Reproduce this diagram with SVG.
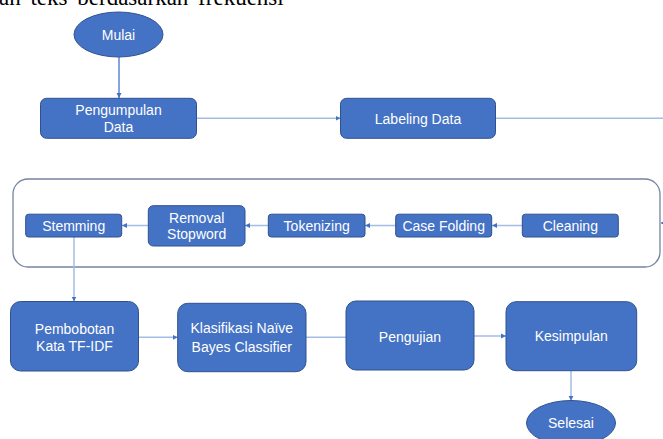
<svg xmlns="http://www.w3.org/2000/svg" width="663" height="439" viewBox="0 0 663 439">
<style>
.n{fill:#4472C4;stroke:#2F528F;stroke-width:1}
.t{fill:#FFFFFF;font-family:"Liberation Sans",Arial,sans-serif;font-size:14px;text-anchor:middle}
.c{fill:none;stroke:#A4BCE6;stroke-width:1.5}
.cd{fill:none;stroke:#5B86D3;stroke-width:1.5}
.doc{font-family:"Liberation Serif","Times New Roman",serif;font-size:23px;word-spacing:4px;fill:#000}
</style>
<defs>
<marker id="ah" markerWidth="6" markerHeight="6" refX="5" refY="3" orient="auto" markerUnits="userSpaceOnUse">
<path d="M0,0.5 L5,3 L0,5.5 Z" fill="#4472C4"/>
</marker>
</defs>
<rect width="663" height="439" fill="#FFFFFF"/>
<text class="doc" x="-1" y="5">an teks berdasarkan frekuensi</text>

<g id="container">
<rect x="13" y="179" width="647" height="88" rx="15" fill="#FFFFFF" stroke="#7584A3" stroke-width="1.3"/>
</g>

<g id="connectors">
<line class="cd" x1="119" y1="57" x2="119" y2="98" marker-end="url(#ah)"/>
<line class="c" x1="197" y1="118.3" x2="340.5" y2="118.3" marker-end="url(#ah)"/>
<line class="c" x1="495.5" y1="118.3" x2="663" y2="118.3"/>
<line class="c" x1="663" y1="223" x2="660.5" y2="223" marker-end="url(#ah)"/>
<line class="c" x1="522" y1="225.5" x2="492" y2="225.5" marker-end="url(#ah)"/>
<line class="c" x1="396" y1="225.5" x2="365" y2="225.5" marker-end="url(#ah)"/>
<line class="c" x1="268" y1="225.5" x2="245" y2="225.5" marker-end="url(#ah)"/>
<line class="c" x1="148" y1="225.5" x2="122" y2="225.5" marker-end="url(#ah)"/>
<line class="c" x1="74" y1="237" x2="74" y2="301.5" marker-end="url(#ah)"/>
<line class="c" x1="138.5" y1="337.3" x2="177.7" y2="337.3" marker-end="url(#ah)"/>
<line class="c" x1="306" y1="337.3" x2="346" y2="337.3"/>
<line class="c" x1="474" y1="336" x2="506" y2="336" marker-end="url(#ah)"/>
<line class="c" x1="571" y1="370.7" x2="571" y2="400.7" marker-end="url(#ah)"/>
</g>

<g id="mulai">
<ellipse class="n" cx="118.5" cy="34.5" rx="44.5" ry="22.5"/>
<text class="t" x="118.5" y="40">Mulai</text>
</g>
<g id="pengumpulan">
<rect class="n" x="40.5" y="98.3" width="156" height="40" rx="6"/>
<text class="t" x="118.5" y="115">Pengumpulan</text>
<text class="t" x="118.5" y="131.5">Data</text>
</g>
<g id="labeling">
<rect class="n" x="340.5" y="98.3" width="155" height="40" rx="6"/>
<text class="t" x="418" y="124">Labeling Data</text>
</g>
<g id="cleaning">
<rect class="n" x="522.3" y="214.2" width="96" height="22.8" rx="3"/>
<text class="t" x="570.3" y="230.5">Cleaning</text>
</g>
<g id="casefolding">
<rect class="n" x="395.7" y="214.2" width="96" height="22.8" rx="3"/>
<text class="t" x="443.7" y="230.5">Case Folding</text>
</g>
<g id="tokenizing">
<rect class="n" x="268.3" y="214.2" width="96.7" height="22.8" rx="3"/>
<text class="t" x="316.7" y="230.5">Tokenizing</text>
</g>
<g id="removal">
<rect class="n" x="148.3" y="205.7" width="96.7" height="40.3" rx="5"/>
<text class="t" x="196.7" y="222.5">Removal</text>
<text class="t" x="196.7" y="239">Stopword</text>
</g>
<g id="stemming">
<rect class="n" x="25.7" y="214.2" width="96" height="22.8" rx="3"/>
<text class="t" x="73.7" y="230.5">Stemming</text>
</g>
<g id="pembobotan">
<rect class="n" x="10.5" y="301.5" width="128" height="69.5" rx="10"/>
<text class="t" x="74.5" y="334">Pembobotan</text>
<text class="t" x="74.5" y="351">Kata TF-IDF</text>
</g>
<g id="klasifikasi">
<rect class="n" x="177.7" y="303.3" width="128.3" height="68.4" rx="10"/>
<text class="t" x="241.8" y="333.3">Klasifikasi Naïve</text>
<text class="t" x="241.8" y="351.7">Bayes Classifier</text>
</g>
<g id="pengujian">
<rect class="n" x="346" y="301" width="128" height="69" rx="10"/>
<text class="t" x="410" y="341.7">Pengujian</text>
</g>
<g id="kesimpulan">
<rect class="n" x="506" y="301.7" width="130.7" height="69" rx="10"/>
<text class="t" x="571.3" y="341">Kesimpulan</text>
</g>
<g id="selesai">
<ellipse class="n" cx="571" cy="423" rx="44.5" ry="22.5"/>
<text class="t" x="571" y="428">Selesai</text>
</g>
</svg>
